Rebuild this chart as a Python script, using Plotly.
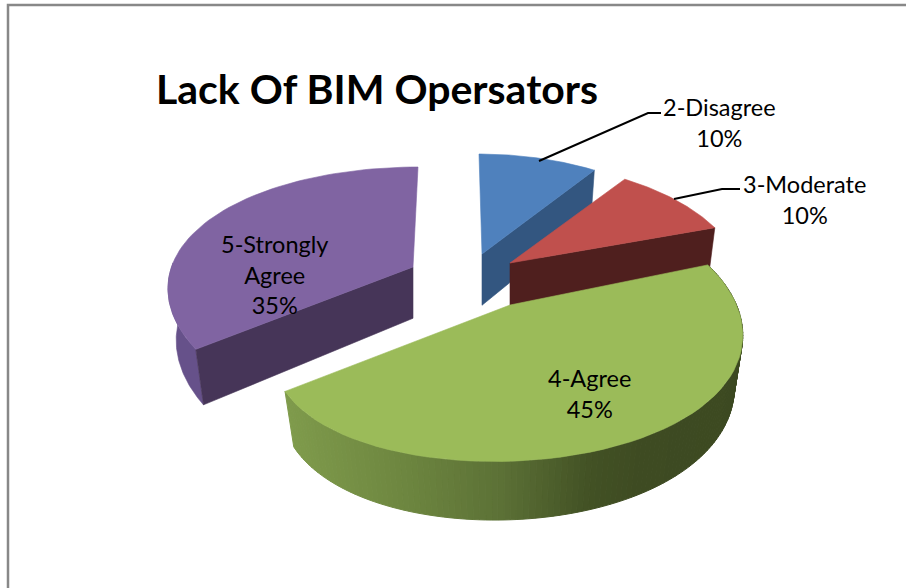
import math
import plotly.graph_objects as go

# ---- data ----
title_text = "Lack Of BIM Opersators"
categories = ["2-Disagree", "3-Moderate", "4-Agree", "5-Strongly<br>Agree"]
values = [10, 10, 45, 35]

# ---- styling / layout ----
top_colors = ["#4F81BD", "#C0504D", "#9BBB59", "#8064A2"]
cut_colors = ["#335680", "#4F1F1E", None, "#463558"]
# per slice placement: centre x, y, x skew, y shear, x perspective, x scale
placement = [
    (482, 254, -3, 0, 0.22, 1.0),
    (510, 263, 0, 0, 0.22, 1.0),
    (510, 305, 8, 5, 0.30, 0.975),
    (413, 267, 5, 0, 0.15, 1.05),
]
label_pos = [(719, 122), (804, 199), (589, 393), (274, 274)]
R, RT, KY, H, M = 230, 122, 0.22, 53, 0.034
green_ramp = [(282, (128, 156, 76)), (400, (110, 135, 64)), (500, (92, 113, 54)),
              (590, (66, 81, 36)), (640, (62, 75, 34)), (750, (60, 73, 33))]
leaders = [[(539, 161), (648, 113), (661, 113)], [(674, 199), (722, 189), (740, 189)]]

total = sum(values)
starts, a = [], 0.0
for v in values:
    starts.append(a)
    a += v / total * 360


def project(i, ang, r=1.0, z=0.0):
    cx, cy, skew, shear, kx, xs = placement[i]
    th = math.radians(ang)
    u, v = r * math.sin(th), r * math.cos(th)
    sx = 1 / (1 + kx * v + M * z)
    sy = 1 / (1 + KY * v + M * z)
    return (cx + xs * R * u * sx + skew * v,
            cy + (-RT * v + H * z) * sy - shear * u)


def arc(i, a0, a1, z=0.0, n=60):
    return [project(i, a0 + (a1 - a0) * k / n, 1.0, z) for k in range(n + 1)]


def hexc(rgb):
    return "#%02X%02X%02X" % tuple(int(round(c)) for c in rgb)


def ramp(x):
    if x <= green_ramp[0][0]:
        return hexc(green_ramp[0][1])
    for (x0, c0), (x1, c1) in zip(green_ramp, green_ramp[1:]):
        if x <= x1:
            t = (x - x0) / (x1 - x0)
            return hexc([p + (q - p) * t for p, q in zip(c0, c1)])
    return hexc(green_ramp[-1][1])


fig = go.Figure()


def poly(pts, color, lw=0.6):
    xs = [p[0] for p in pts] + [pts[0][0]]
    ys = [p[1] for p in pts] + [pts[0][1]]
    fig.add_trace(go.Scatter(x=xs, y=ys, mode="lines", fill="toself", fillcolor=color,
                             line=dict(color=color, width=lw), hoverinfo="skip",
                             showlegend=False))


def cut(i, ang):
    return [project(i, ang, 1, 0), project(i, 0, 0, 0), project(i, 0, 0, 1), project(i, ang, 1, 1)]


def top(i, a0, a1):
    return [project(i, 0, 0, 0)] + arc(i, a0, a1)


ends = [s + v / total * 360 for s, v in zip(starts, values)]

# purple
poly(arc(3, starts[3], starts[3] + 38) + arc(3, starts[3], starts[3] + 38, 1)[::-1], "#66518A")
poly(cut(3, starts[3]), cut_colors[3])
poly(top(3, starts[3], ends[3]), top_colors[3])
# blue
poly(cut(0, ends[0]), cut_colors[0])
poly(top(0, starts[0], ends[0]), top_colors[0])
# red
poly(cut(1, ends[1]), cut_colors[1])
poly(top(1, starts[1], ends[1]), top_colors[1])
# green rim, banded left to right for the shading
n = 140
for k in range(n):
    a0 = starts[2] + (ends[2] - starts[2]) * k / n
    a1 = starts[2] + (ends[2] - starts[2]) * (k + 1) / n
    pts = arc(2, a0, a1, 0, 2) + arc(2, a0, a1, 1, 2)[::-1]
    poly(pts, ramp(sum(p[0] for p in pts) / len(pts)), 1)
poly(top(2, starts[2], ends[2]), top_colors[2])

# leader lines
for pts in leaders:
    fig.add_trace(go.Scatter(x=[p[0] for p in pts], y=[p[1] for p in pts], mode="lines",
                             line=dict(color="#000000", width=2), hoverinfo="skip",
                             showlegend=False))

# frame
fig.add_trace(go.Scatter(x=[8, 8, 906], y=[588, 5, 5], mode="lines",
                         line=dict(color="#888888", width=2.5), hoverinfo="skip",
                         showlegend=False))

ann = []
for cat, val, (x, y) in zip(categories, values, label_pos):
    ann.append(dict(x=x, y=y, text=f"{cat}<br>{round(val / total * 100)}%", showarrow=False,
                    xanchor="center", yanchor="middle", align="center",
                    font=dict(family="Lato", size=23.5, color="#000000")))
ann.append(dict(x=377, y=88, text=f"<b>{title_text}</b>", showarrow=False, xanchor="center",
                yanchor="middle", font=dict(family="Lato", size=41, color="#000000")))

fig.update_layout(
    width=906, height=588, margin=dict(l=0, r=0, t=0, b=0),
    paper_bgcolor="#FFFFFF", plot_bgcolor="#FFFFFF", showlegend=False,
    xaxis=dict(range=[0, 906], visible=False, fixedrange=True),
    yaxis=dict(range=[588, 0], visible=False, fixedrange=True),
    annotations=ann,
)
fig.write_html("out.html", config={"displayModeBar": False},
               post_script="document.body.style.margin='0';")
